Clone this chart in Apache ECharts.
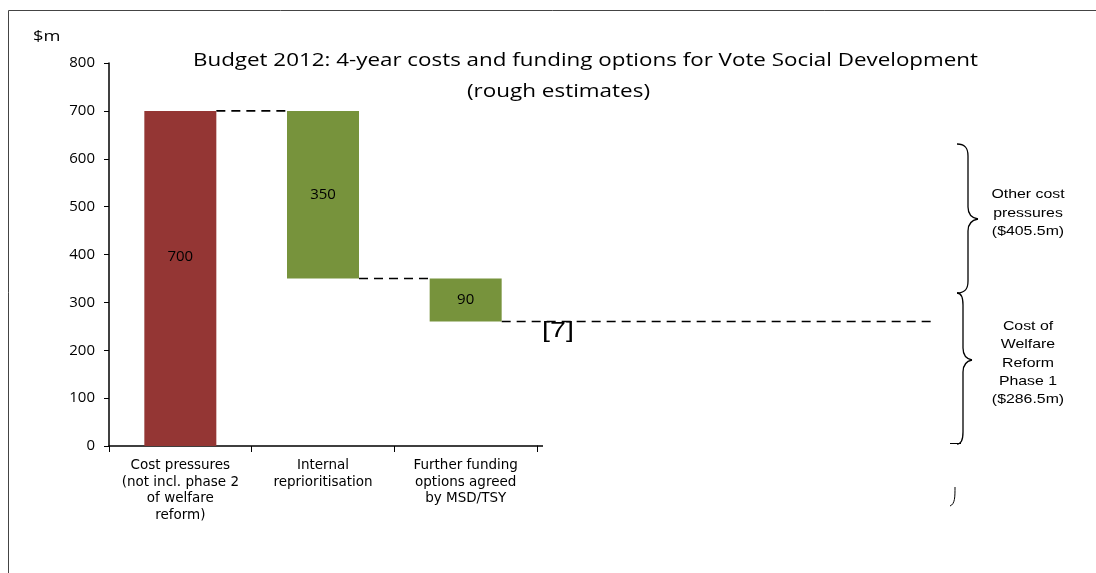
<!DOCTYPE html>
<html>
<head>
<meta charset="utf-8">
<script src="https://cdn.jsdelivr.net/npm/echarts@6/dist/echarts.min.js"></script>
<style>html,body{margin:0;padding:0;background:#fff}#c{width:1096px;height:573px}</style>
</head>
<body>
<div id="c"></div>
<script>
// ---- data ----
var categories = ['Cost pressures\n(not incl. phase 2\nof welfare\nreform)', 'Internal\nreprioritisation', 'Further funding\noptions agreed\nby MSD/TSY'];
var baseValues = [0, 350, 260];
var barValues = [700, 350, 90];
var barLabels = ['700', '350', '90'];
var connectorLevels = [700, 350, 260];
var yTicks = [0, 100, 200, 300, 400, 500, 600, 700, 800];
var titleLine1 = 'Budget 2012: 4-year costs and funding options for Vote Social Development';
var titleLine2 = '(rough estimates)';
var braceTop = 'Other cost\npressures\n($405.5m)';
var braceBottom = 'Cost of\nWelfare\nReform\nPhase 1\n($286.5m)';

var chart = echarts.init(document.getElementById('c'), null, {renderer: 'canvas'});
var barColors = ['#943634', '#77933C', '#77933C'];

// text width helper for horizontal stretching of title (layout only)
var mctx = document.createElement('canvas').getContext('2d');
function textW(t, font) { mctx.font = font; return mctx.measureText(t).width; }
var titleFont = 'Open Sans';
var tSize = 19;
var t1w = textW(titleLine1, tSize + 'px "' + titleFont + '"');
var t2w = textW(titleLine2, tSize + 'px "' + titleFont + '"');

function brace(xs, yTop, yBot, xSpine, xTip, yTip) {
  var st = {fill: 'none', stroke: '#000', lineWidth: 1.3};
  var c = 12;
  return [
    {type: 'bezierCurve', shape: {x1: xs, y1: yTop, cpx1: xSpine - 2, cpy1: yTop, cpx2: xSpine, cpy2: yTop + 5, x2: xSpine, y2: yTop + c}, style: st},
    {type: 'line', shape: {x1: xSpine, y1: yTop + c, x2: xSpine, y2: yTip - c}, style: st},
    {type: 'bezierCurve', shape: {x1: xSpine, y1: yTip - c, cpx1: xSpine, cpy1: yTip - 4, cpx2: xSpine + 4, cpy2: yTip - 1, x2: xTip, y2: yTip}, style: st},
    {type: 'bezierCurve', shape: {x1: xTip, y1: yTip, cpx1: xSpine + 4, cpy1: yTip + 1, cpx2: xSpine, cpy2: yTip + 4, x2: xSpine, y2: yTip + c}, style: st},
    {type: 'line', shape: {x1: xSpine, y1: yTip + c, x2: xSpine, y2: yBot - c}, style: st},
    {type: 'bezierCurve', shape: {x1: xSpine, y1: yBot - c, cpx1: xSpine, cpy1: yBot - 5, cpx2: xSpine - 2, cpy2: yBot, x2: xs, y2: yBot}, style: st}
  ];
}

var graphics = [
  {type: 'rect', shape: {x: 8.5, y: 10.5, width: 1200, height: 700}, style: {fill: 'none', stroke: '#444', lineWidth: 1}, silent: true},
  {type: 'text', x: 33, y: 29, scaleX: 1.22, style: {text: '$m', font: '15px "Open Sans"', fill: '#000'}},
  {type: 'text', x: 585.5, y: 61, scaleX: 785 / t1w, style: {text: titleLine1, font: tSize + 'px "' + titleFont + '"', fill: '#000', align: 'center', verticalAlign: 'middle'}},
  {type: 'text', x: 558.5, y: 92, scaleX: 183 / t2w, style: {text: titleLine2, font: tSize + 'px "' + titleFont + '"', fill: '#000', align: 'center', verticalAlign: 'middle'}},
  {type: 'text', x: 558, y: 331, scaleX: 1.3, style: {text: '[7]', font: '22px "Liberation Sans"', fill: '#000', align: 'center', verticalAlign: 'middle'}},
  {type: 'line', shape: {x1: 537, y1: 446, x2: 543, y2: 446}, style: {stroke: '#000', lineWidth: 1.5}},
  {type: 'line', shape: {x1: 950, y1: 443.5, x2: 961, y2: 443.5}, style: {stroke: '#000', lineWidth: 1}},
  {type: 'bezierCurve', shape: {x1: 955, y1: 487, cpx1: 955, cpy1: 497, cpx2: 955, cpy2: 504, x2: 950, y2: 506}, style: {fill: 'none', stroke: '#000', lineWidth: 1}},
  {type: 'text', x: 1028, y: 213, scaleX: 1.22, style: {text: braceTop, font: '13px "Liberation Sans"', lineHeight: 18.5, fill: '#000', align: 'center', verticalAlign: 'middle'}},
  {type: 'text', x: 1028, y: 363, scaleX: 1.22, style: {text: braceBottom, font: '13px "Liberation Sans"', lineHeight: 18.3, fill: '#000', align: 'center', verticalAlign: 'middle'}}
].concat(brace(957, 144, 293, 968, 978, 219)).concat(brace(957, 293, 444, 963, 972, 360));

var option = {
  animation: false,
  grid: {left: 109, top: 63, right: 559, bottom: 127, containLabel: false},
  xAxis: {
    type: 'category',
    data: categories,
    axisLine: {show: true, lineStyle: {color: '#000', width: 1.5}},
    axisTick: {show: true, length: 6, lineStyle: {color: '#000', width: 1}},
    axisLabel: {interval: 0, color: '#000', fontFamily: 'DejaVu Sans', fontSize: 13.5, lineHeight: 16.7, margin: 11}
  },
  yAxis: {
    type: 'value', min: 0, max: 800, interval: 100,
    axisLine: {show: true, lineStyle: {color: '#000', width: 1.5}},
    axisTick: {show: true, length: 5, lineStyle: {color: '#000'}},
    splitLine: {show: false},
    axisLabel: {color: '#000', fontFamily: 'Open Sans', fontSize: 15, margin: 14,
      formatter: function (v) { return yTicks.indexOf(v) >= 0 ? String(v) : ''; }}
  },
  series: [
    {
      type: 'bar', stack: 'w', data: baseValues, barWidth: 72,
      itemStyle: {color: 'transparent'}, silent: true
    },
    {
      type: 'bar', stack: 'w', barWidth: 72,
      data: barValues.map(function (v, i) {
        return {value: v, itemStyle: {color: barColors[i]},
          label: {show: true, formatter: barLabels[i], position: 'inside', offset: i === 0 ? [0, -22] : [0, 0]}};
      }),
      label: {color: '#000', fontFamily: 'Open Sans', fontSize: 15}
    },
    {
      type: 'custom',
      clip: false,
      data: connectorLevels.map(function (v, i) { return [i, v]; }),
      renderItem: function (params, api) {
        var i = api.value(0), lvl = api.value(1);
        var p = api.coord([i, lvl]);
        var half = 36;
        var x1 = p[0] + half, x2;
        if (i < connectorLevels.length - 1) {
          x2 = api.coord([i + 1, lvl])[0] - half;
        } else {
          x2 = api.getWidth() * 0.851;
        }
        return {
          type: 'line',
          shape: {x1: x1, y1: p[1], x2: x2, y2: p[1]},
          style: {stroke: '#000', lineWidth: 1.6, lineDash: [9, 6]}
        };
      }
    }
  ],
  graphic: graphics
};
chart.setOption(option);
</script>
</body>
</html>
